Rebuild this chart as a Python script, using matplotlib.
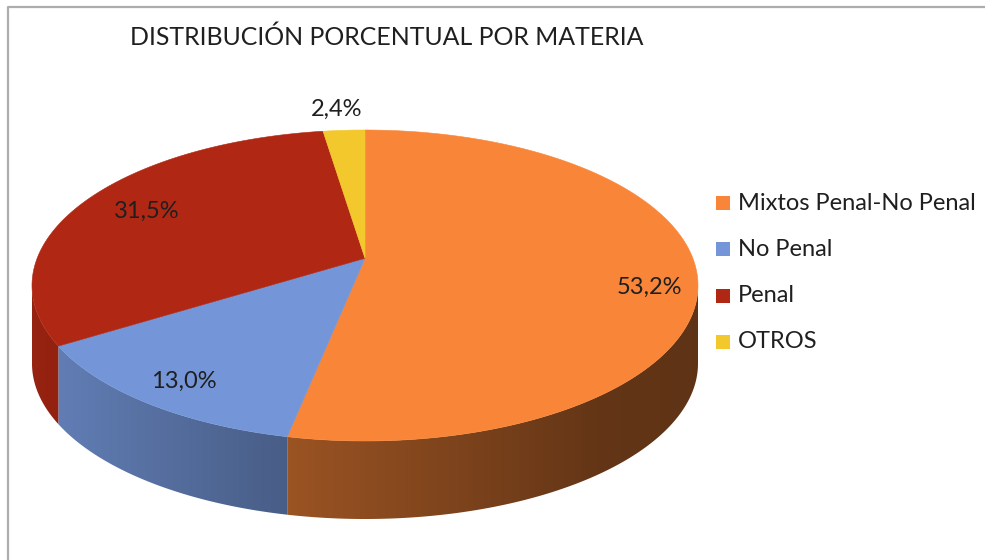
import numpy as np
import matplotlib
matplotlib.use("Agg")
import matplotlib.pyplot as plt
from matplotlib.patches import Polygon, Rectangle

# ---- data ----------------------------------------------------------------
CATEGORIES = ["Mixtos Penal-No Penal", "No Penal", "Penal", "OTROS"]
VALUES = [53.2, 13.0, 31.5, 2.4]
COLORS = ["#F98638", "#7496D8", "#B02814", "#F2C82D"]
TITLE = "DISTRIBUCIÓN PORCENTUAL POR MATERIA"

# ---- layout (pixel space of the 985x560 canvas) --------------------------
W, H = 985, 560
CX, CY = 365.0, 285.5        # centre of the top ellipse
RX, RY = 333.0, 155.5        # half-axes of the top ellipse
DEPTH = 78.0                 # thickness of the pie
K = 0.175                    # perspective pull (apex sits above ellipse centre)
LABEL_R = [0.87, 0.85, 0.79, 1.2]
LABEL_NUDGE = [(-4, 16), (0, 3), (4, 0), (-4, 0)]
FONT = ["Lato", "DejaVu Sans"]
TEXT_COLOR = "#1f1f1f"

# side shading: darkness factor vs screen x
SHADE_X = [30, 290, 600, 700]
SHADE_F = [0.86, 0.62, 0.40, 0.38]


def project(u, v):
    """Disk point (u, v) -> screen pixel, with a simple perspective tilt."""
    w = 1 + K * v
    X = np.sqrt(1 - K ** 2) * u / w
    Y = (v + K) / w
    return CX + RX * X, CY - RY * Y, X, Y


def main():
    fig = plt.figure(figsize=(W / 100, H / 100), dpi=100)
    ax = fig.add_axes([0, 0, 1, 1])

    vals = np.array(VALUES)
    frac = vals / vals.sum()
    # disk angles of slice boundaries, clockwise from 12 o'clock
    bounds = 90 - 360 * np.concatenate([[0], np.cumsum(frac)])
    rb = np.radians(bounds)
    _, _, BX, BY = project(np.cos(rb), np.sin(rb))
    tb = np.degrees(np.arctan2(BY, BX))
    # keep the ellipse parameter strictly decreasing (clockwise)
    for i in range(1, len(tb)):
        while tb[i] > tb[i - 1]:
            tb[i] -= 360

    # side walls (front half of the ellipse, t in [-180, 0] mod 360),
    # filled with a horizontal gradient clipped to the wall outline
    gx = np.arange(W) + 0.5
    shade = np.interp(gx, SHADE_X, SHADE_F)
    for i, col in enumerate(COLORS):
        base = np.array(matplotlib.colors.to_rgb(col))
        t_hi, t_lo = tb[i], tb[i + 1]
        for n in (-2, -1, 0, 1):
            lo = max(t_lo, -180 + 360 * n)
            hi = min(t_hi, 360 * n)
            if hi <= lo:
                continue
            ts = np.radians(np.linspace(lo, hi, 200))
            xs = CX + RX * np.cos(ts)
            ys = CY - RY * np.sin(ts)
            outline = list(zip(xs, ys)) + list(zip(xs[::-1], ys[::-1] + DEPTH))
            wall = Polygon(outline, closed=True, facecolor="none",
                           edgecolor="none")
            ax.add_patch(wall)
            grad = np.clip(base[None, None, :] * shade[None, :, None], 0, 1)
            im = ax.imshow(grad, extent=(0, W, H, 0), aspect="auto",
                           interpolation="bilinear", zorder=1)
            im.set_clip_path(wall)

    # top faces
    apex = project(0.0, 0.0)[:2]
    for i, col in enumerate(COLORS):
        a = np.radians(np.linspace(bounds[i], bounds[i + 1], 200))
        px, py, _, _ = project(np.cos(a), np.sin(a))
        pts = [apex] + list(zip(px, py))
        ax.add_patch(Polygon(pts, closed=True, facecolor=col, edgecolor=col,
                             linewidth=0.4, zorder=2))

    # data labels
    for i, v in enumerate(VALUES):
        mid = np.radians((bounds[i] + bounds[i + 1]) / 2)
        r = LABEL_R[i]
        lx, ly, _, _ = project(r * np.cos(mid), r * np.sin(mid))
        dx, dy = LABEL_NUDGE[i]
        ax.text(lx + dx, ly + dy, f"{v:.1f}%".replace(".", ","), ha="center",
                va="center", fontsize=17, color=TEXT_COLOR, family=FONT,
                zorder=3)

    # title
    ax.text(130, 37, TITLE, ha="left", va="center", fontsize=17.9,
            color=TEXT_COLOR, family=FONT)

    # legend
    for i, (name, col) in enumerate(zip(CATEGORIES, COLORS)):
        y = 203 + 46.3 * i
        ax.add_patch(Rectangle((716, y - 7), 14, 14, facecolor=col,
                               edgecolor="none"))
        ax.text(738, y, name, ha="left", va="center", fontsize=17,
                color=TEXT_COLOR, family=FONT)

    # chart frame (only top and left edges are in view)
    ax.plot([8, 8, W], [H, 7, 7], color="#ADADAD", lw=1.6,
            solid_capstyle="butt")

    ax.set_xlim(0, W)
    ax.set_ylim(H, 0)
    ax.set_aspect("auto")
    ax.axis("off")
    fig.savefig("out.png", dpi=100)


if __name__ == "__main__":
    main()
